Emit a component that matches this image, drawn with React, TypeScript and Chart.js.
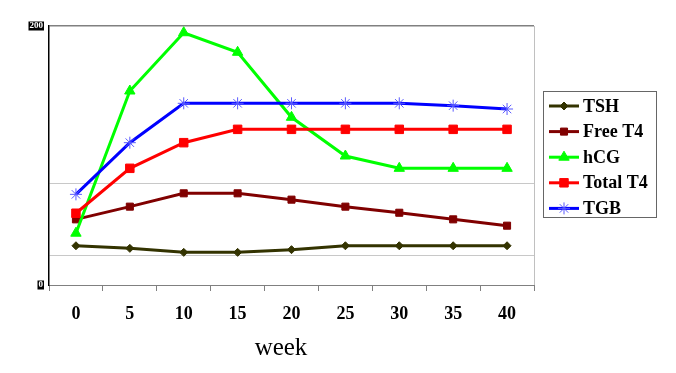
import React, { useEffect, useRef } from "react";
import { Chart, registerables } from "chart.js";
import { drawPoint } from "chart.js/helpers";

Chart.register(...registerables);

const weeks = ["0", "5", "10", "15", "20", "25", "30", "35", "40"];
const tsh = [30.3, 28.3, 25.2, 25.2, 27.3, 30.3, 30.3, 30.3, 30.3];
const freeT4 = [50.7, 60.5, 70.8, 70.8, 65.9, 60.5, 55.8, 50.7, 45.8];
const hcg = [40, 149.8, 194.8, 179.7, 129.5, 99.6, 90.1, 90.1, 90.1];
const totalT4 = [55.4, 90.1, 109.9, 120.2, 120.2, 120.2, 120.2, 120.2, 120.2];
const tgb = [70, 109.9, 140.3, 140.3, 140.3, 140.3, 140.3, 138.5, 135.9];
const yGridValues = [0, 22.4, 78.5, 200];
const yLabelValues = [0, 200];
const xTitle = "week";

const SERIF = '"Liberation Serif", "Times New Roman", serif';

type SeriesStyle = {
  label: string;
  data: number[];
  color: string;
  pointColor: string;
  pointStyle: string;
  radius: number;
  pointBorderWidth: number;
  order: number;
};

const series: SeriesStyle[] = [
  { label: "TSH", data: tsh, color: "#333300", pointColor: "#333300", pointStyle: "rectRot", radius: 4, pointBorderWidth: 1, order: 5 },
  { label: "Free T4", data: freeT4, color: "#800000", pointColor: "#800000", pointStyle: "rect", radius: 5, pointBorderWidth: 1, order: 4 },
  { label: "hCG", data: hcg, color: "#00ff00", pointColor: "#00ff00", pointStyle: "triangle", radius: 6, pointBorderWidth: 1, order: 3 },
  { label: "Total T4", data: totalT4, color: "#ff0000", pointColor: "#ff0000", pointStyle: "rect", radius: 6, pointBorderWidth: 1, order: 2 },
  { label: "TGB", data: tgb, color: "#0000ff", pointColor: "#5a5aff", pointStyle: "star", radius: 6, pointBorderWidth: 1, order: 1 },
];

const legendPlugin = {
  id: "boxLegend",
  afterDraw(chart: any) {
    const ctx = chart.ctx;
    const area = chart.chartArea;
    ctx.save();
    // right border of plot area
    ctx.strokeStyle = "#c0c0c0";
    ctx.lineWidth = 1;
    ctx.beginPath();
    ctx.moveTo(area.right + 0.5, area.top);
    ctx.lineTo(area.right + 0.5, area.bottom);
    ctx.stroke();

    // axis title (sits a little left of the plot centre in the original)
    ctx.fillStyle = "#000000";
    ctx.font = `25px ${SERIF}`;
    ctx.textAlign = "center";
    ctx.textBaseline = "middle";
    ctx.fillText(xTitle, 281, 348);

    // legend box
    ctx.strokeStyle = "#666666";
    ctx.lineWidth = 1;
    ctx.strokeRect(543.5, 91.5, 113, 126);
    series.forEach((s, i) => {
      const y = 106 + i * 25.6;
      ctx.strokeStyle = s.color;
      ctx.lineWidth = 3;
      ctx.beginPath();
      ctx.moveTo(549, y);
      ctx.lineTo(579, y);
      ctx.stroke();
      ctx.fillStyle = s.pointColor;
      ctx.strokeStyle = s.pointColor;
      ctx.lineWidth = s.pointBorderWidth;
      drawPoint(ctx, { pointStyle: s.pointStyle as any, rotation: 0, borderWidth: s.pointBorderWidth, radius: s.radius }, 564, y);
      ctx.fillStyle = "#000000";
      ctx.font = `bold 18px ${SERIF}`;
      ctx.textAlign = "left";
      ctx.textBaseline = "middle";
      ctx.fillText(s.label, 583, y + 1);
    });
    ctx.restore();
  },
};

export default function App() {
  const ref = useRef<HTMLCanvasElement | null>(null);

  useEffect(() => {
    if (!ref.current) return;
    const chart = new Chart(ref.current, {
      type: "line",
      data: {
        labels: weeks,
        datasets: series.map((s) => ({
          label: s.label,
          data: s.data,
          borderColor: s.color,
          backgroundColor: s.pointColor,
          pointBackgroundColor: s.pointColor,
          pointBorderColor: s.pointColor,
          pointBorderWidth: s.pointBorderWidth,
          pointStyle: s.pointStyle as any,
          pointRadius: s.radius,
          borderWidth: 3,
          tension: 0,
          fill: false,
          order: s.order,
          clip: false as any,
        })),
      },
      options: {
        responsive: false,
        animation: false,
        layout: { padding: { left: 0, right: 676 - 534, top: 26, bottom: 0 } },
        plugins: {
          legend: { display: false },
          tooltip: { enabled: false },
        },
        scales: {
          x: {
            type: "category",
            offset: true,
            afterFit: (scale: any) => {
              scale.height = 88;
            },
            grid: {
              offset: true,
              drawOnChartArea: false,
              drawTicks: true,
              tickLength: 6,
              color: "#808080",
            },
            border: { display: true, color: "#808080", width: 1 },
            ticks: {
              color: "#000000",
              font: { family: SERIF, size: 18, weight: "bold" },
              padding: 13,
              maxRotation: 0,
            },
            title: { display: false },
          },
          y: {
            type: "linear",
            min: 0,
            max: 200,
            afterFit: (scale: any) => {
              scale.width = 49;
            },
            afterBuildTicks: (scale: any) => {
              scale.ticks = yGridValues.map((v) => ({ value: v }));
            },
            grid: {
              drawTicks: false,
              color: (c: any) => {
                const v = c.tick ? c.tick.value : 0;
                if (v === 200) return "#808080";
                if (v === 0) return "rgba(0,0,0,0)";
                return "#c8c8c8";
              },
              lineWidth: (c: any) => (c.tick && c.tick.value === 200 ? 1.5 : 1),
            },
            border: { display: true, color: "#000000", width: 1.5 },
            ticks: {
              padding: 6,
              color: "#ffffff",
              font: { family: SERIF, size: 9, weight: "bold", lineHeight: 1 },
              showLabelBackdrop: (c: any) => !!(c.tick && yLabelValues.includes(c.tick.value)),
              backdropColor: (c: any) =>
                c.tick && yLabelValues.includes(c.tick.value) ? "#000000" : "rgba(0,0,0,0)",
              backdropPadding: { top: 0, bottom: 0, left: 1, right: 1 },
              callback: (v: any) => (yLabelValues.includes(Number(v)) ? String(v) : ""),
            } as any,
          },
        },
      },
      plugins: [legendPlugin],
    });
    return () => chart.destroy();
  }, []);

  return (
    <div style={{ position: "absolute", left: 0, top: 0, width: 676, height: 373, background: "#ffffff" }}>
      <canvas ref={ref} width={676} height={373} />
    </div>
  );
}
